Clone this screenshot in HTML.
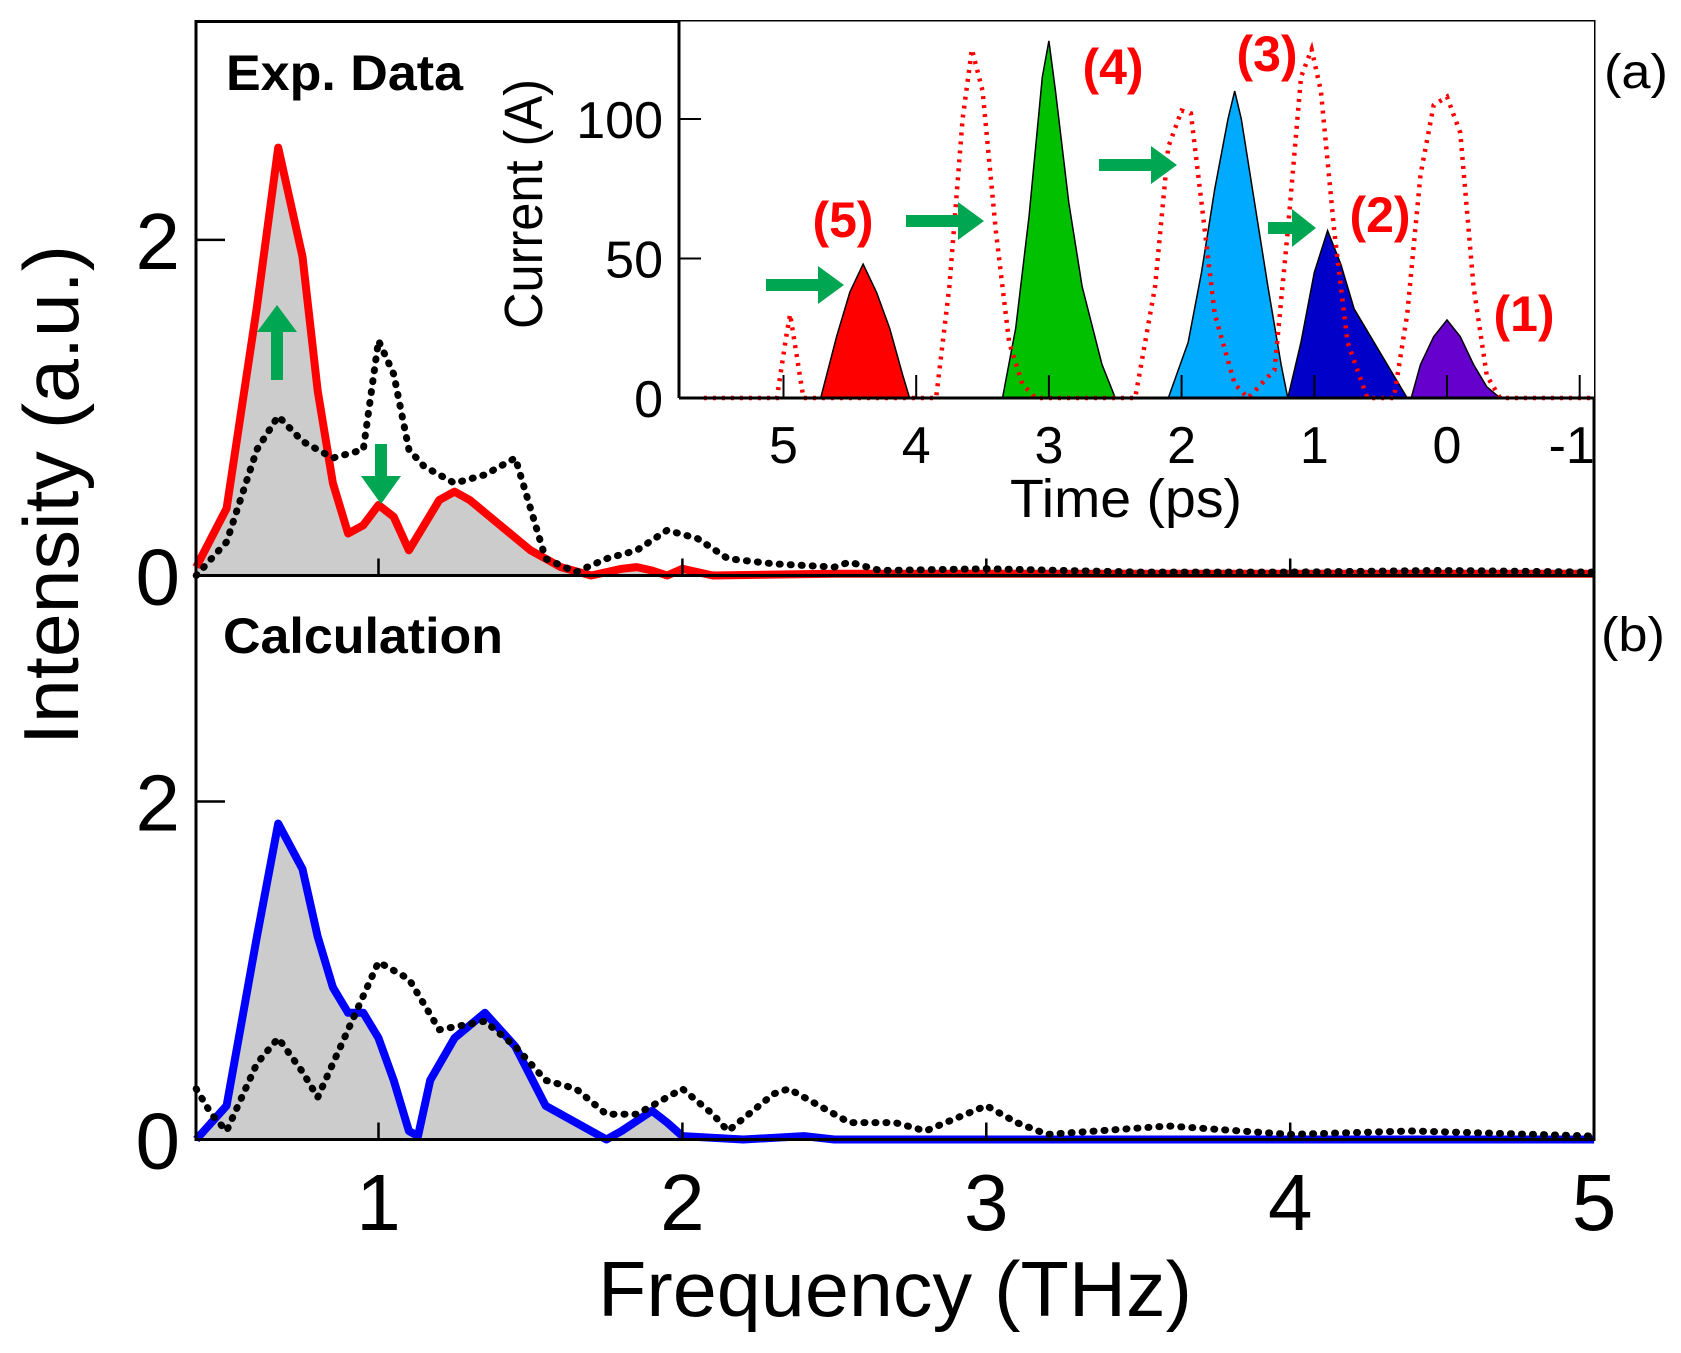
<!DOCTYPE html>
<html><head><meta charset="utf-8"><style>
html,body{margin:0;padding:0;background:#fff;}
svg{display:block;font-family:"Liberation Sans",Arial,sans-serif;}
</style></head><body>
<svg id="chart" width="1681" height="1353" viewBox="0 0 1681 1353" xmlns="http://www.w3.org/2000/svg">
<rect x="0" y="0" width="1681" height="1353" fill="#fff"/>
<g id="plots"></g>
<g id="deco"></g>
</svg>
<script>
// ---- main chart data (frequency THz, intensity a.u.) ----
const expFreq   = [0.4,0.5,0.6,0.67,0.75,0.8,0.85,0.9,0.95,1.0,1.05,1.1,1.15,1.2,1.25,1.3,1.4,1.5,1.6,1.7,1.8,1.85,1.9,1.95,2.0,2.1,2.5,3.0,3.5,4.0,4.5,5.0];
const expMeas   = [0.05,0.4,1.6,2.55,1.9,1.1,0.55,0.25,0.3,0.42,0.35,0.15,0.3,0.45,0.5,0.45,0.3,0.15,0.05,0.0,0.04,0.05,0.03,0.0,0.04,0.0,0.01,0.01,0.01,0.01,0.01,0.01];
const expRefFreq= [0.4,0.5,0.6,0.67,0.75,0.85,0.95,1.0,1.05,1.1,1.15,1.25,1.35,1.45,1.5,1.55,1.65,1.75,1.85,1.95,2.05,2.15,2.3,2.5,2.55,2.65,3.0,3.5,4.0,4.5,5.0];
const expRef    = [0.0,0.2,0.75,0.95,0.8,0.7,0.75,1.4,1.2,0.75,0.65,0.55,0.6,0.7,0.4,0.1,0.02,0.1,0.15,0.27,0.22,0.1,0.07,0.05,0.08,0.03,0.04,0.02,0.02,0.03,0.02];
const calcFreq  = [0.4,0.5,0.6,0.67,0.75,0.8,0.85,0.9,0.95,1.0,1.05,1.1,1.13,1.17,1.25,1.35,1.45,1.55,1.65,1.75,1.8,1.9,1.95,2.0,2.2,2.4,2.5,3.0,4.0,5.0];
const calcVal   = [0.0,0.2,1.2,1.87,1.6,1.2,0.9,0.75,0.75,0.6,0.35,0.05,0.02,0.35,0.6,0.75,0.55,0.2,0.1,0.0,0.05,0.17,0.1,0.02,0.0,0.02,0.0,0.0,0.0,0.0];
const calcRefFreq=[0.4,0.45,0.5,0.6,0.67,0.75,0.8,0.9,1.0,1.1,1.2,1.35,1.45,1.55,1.65,1.75,1.85,2.0,2.1,2.15,2.3,2.35,2.45,2.55,2.7,2.8,3.0,3.1,3.2,3.6,4.0,4.4,5.0];
const calcRef   = [0.3,0.15,0.05,0.45,0.6,0.4,0.25,0.65,1.05,0.95,0.65,0.7,0.55,0.35,0.3,0.15,0.15,0.3,0.15,0.05,0.27,0.3,0.2,0.1,0.1,0.05,0.2,0.1,0.03,0.08,0.03,0.05,0.02];
const freqTicks = [1,2,3,4,5];
const intTicks  = [0,2];
// ---- inset data (time ps, current A) ----
const p5T=[4.72,4.6,4.5,4.4,4.3,4.2,4.1,4.05]; const p5I=[0,22,38,48,38,25,8,0];
const p4T=[3.35,3.25,3.15,3.05,3.0,2.95,2.85,2.75,2.6,2.5]; const p4I=[0,25,65,115,128,110,70,40,12,0];
const p3T=[2.1,1.95,1.85,1.75,1.65,1.6,1.55,1.45,1.35,1.25,1.2]; const p3I=[0,20,45,75,100,110,100,70,40,12,0];
const p2T=[1.2,1.1,1.0,0.9,0.8,0.7,0.55,0.4,0.3]; const p2I=[0,20,45,60,48,32,20,8,0];
const p1T=[0.27,0.2,0.1,0.0,-0.1,-0.2,-0.3,-0.4]; const p1I=[0,12,22,28,22,12,4,0];
const dotT=[5.6,5.05,4.98,4.95,4.9,4.85,3.85,3.75,3.65,3.58,3.5,3.4,3.3,3.2,3.1,2.35,2.2,2.1,2.0,1.93,1.85,1.75,1.6,1.5,1.3,1.2,1.1,1.02,0.95,0.85,0.75,0.6,0.5,0.4,0.3,0.2,0.1,0.0,-0.1,-0.2,-0.3,-0.4,-1.1];
const dotI=[0,0,22,30,15,0,0,40,100,125,110,60,20,5,0,0,40,90,103,102,70,30,5,0,10,60,115,125,110,60,20,0,0,0,30,80,105,108,95,40,8,0,0];
const timeTicks=[5,4,3,2,1,0,-1];
const curTicks=[0,50,100];

const NS="http://www.w3.org/2000/svg";
const plots=document.getElementById('plots');
function mk(tag,attrs,parent){const e=document.createElementNS(NS,tag);for(const k in attrs)e.setAttribute(k,attrs[k]);(parent||plots).appendChild(e);return e;}
const X0=196,X1=1594;
const fx=f=>378.5+(f-1)*303.9;
const yA=v=>575.5-v*167.8;
const yB=v=>1139.5-v*169;
const tx=t=>1447-t*132.7;
const cy=c=>398-c*2.79;
function pts(xs,ys,fxf,fyf){return xs.map((x,i)=>fxf(x).toFixed(1)+','+fyf(ys[i]).toFixed(1)).join(' ');}

let e;
e=mk('polygon',{points:fx(expFreq[0])+','+yA(0)+' '+pts(expFreq,expMeas,fx,yA)+' '+fx(5)+','+yA(0),fill:'#cccccc'});

e=mk('polyline',{points:pts(expFreq,expMeas,fx,yA),fill:'none',stroke:'#ff0000','stroke-width':8,'stroke-linejoin':'round'});

e=mk('polyline',{points:pts(expRefFreq,expRef,fx,yA),fill:'none',stroke:'#000','stroke-width':7,'stroke-dasharray':'1,10','stroke-linecap':'round'});

e=mk('polygon',{points:fx(calcFreq[0])+','+yB(0)+' '+pts(calcFreq,calcVal,fx,yB)+' '+fx(5)+','+yB(0),fill:'#cccccc'});

e=mk('polyline',{points:pts(calcFreq,calcVal,fx,yB),fill:'none',stroke:'#0000ff','stroke-width':8,'stroke-linejoin':'round'});

e=mk('polyline',{points:pts(calcRefFreq,calcRef,fx,yB),fill:'none',stroke:'#000','stroke-width':7,'stroke-dasharray':'1,10','stroke-linecap':'round'});


e=mk('rect',{x:X0,y:21.5,width:X1-X0,height:yB(0)-21.5,fill:'none',stroke:'#000','stroke-width':3});

e=mk('line',{x1:X0,y1:yA(0),x2:X1,y2:yA(0),stroke:'#000','stroke-width':3});

freqTicks.forEach(f=>{
  e=mk('line',{x1:fx(f),y1:yB(0),x2:fx(f),y2:yB(0)-17,stroke:'#000','stroke-width':2.5});
  
  e=mk('line',{x1:fx(f),y1:yA(0),x2:fx(f),y2:yA(0)-17,stroke:'#000','stroke-width':2.5});
  
  e=mk('text',{x:fx(f),y:1230,'font-size':80,'text-anchor':'middle',fill:'#000'});
  e.textContent=String(f);
  
});
intTicks.forEach(v=>{
  [[yA,'a'],[yB,'b']].forEach(([fy,p])=>{
    e=mk('line',{x1:X0,y1:fy(v),x2:X0+29,y2:fy(v),stroke:'#000','stroke-width':2.5});
    
    e=mk('text',{x:180,y:fy(v)+29,'font-size':80,'text-anchor':'end',fill:'#000'});
    e.textContent=String(v);
    
  });
});

const ig=mk('g',{});

e=mk('rect',{x:679,y:21.5,width:X1-679,height:398-21.5,fill:'#fff'},ig);

const pulses=[[p5T,p5I,'#ff0000','pulse-5'],[p4T,p4I,'#00c000','pulse-4'],[p3T,p3I,'#00aaff','pulse-3'],[p2T,p2I,'#0000c8','pulse-2'],[p1T,p1I,'#6600cc','pulse-1']];
pulses.forEach(([T,I,c,n])=>{
  e=mk('polygon',{points:pts(T,I,tx,cy),fill:c,stroke:'#000','stroke-width':1.5},ig);
  
});
e=mk('polyline',{points:pts(dotT,dotI,tx,cy),fill:'none',stroke:'#ff0000','stroke-width':4.5,'stroke-dasharray':'3,6'},ig);

e=mk('line',{x1:679,y1:21.5,x2:679,y2:398,stroke:'#000','stroke-width':3},ig);

e=mk('line',{x1:679,y1:398,x2:X1,y2:398,stroke:'#000','stroke-width':3},ig);

timeTicks.forEach(t=>{
  e=mk('line',{x1:tx(t),y1:398,x2:tx(t),y2:375,stroke:'#000','stroke-width':2},ig);
  
  e=mk('text',{x:tx(t)-(t<0?8:0),y:463,'font-size':52,'text-anchor':'middle',fill:'#000'},ig);
  e.textContent=String(t);
  
});
curTicks.forEach(c=>{
  e=mk('line',{x1:679,y1:cy(c),x2:701,y2:cy(c),stroke:'#000','stroke-width':2},ig);
  
  e=mk('text',{x:663,y:cy(c)+19,'font-size':52,'text-anchor':'end',fill:'#000'},ig);
  e.textContent=String(c);
  
});
</script>
<script>
const d=document.getElementById('deco');
d.innerHTML=`
<text x="598" y="1316" font-size="78" textLength="594" lengthAdjust="spacingAndGlyphs">Frequency (THz)</text>
<text transform="translate(78,495) rotate(-90)" font-size="78" text-anchor="middle" textLength="500" lengthAdjust="spacingAndGlyphs">Intensity (a.u.)</text>
<text x="1010" y="517" font-size="54" textLength="232" lengthAdjust="spacingAndGlyphs">Time (ps)</text>
<text transform="translate(542,204) rotate(-90)" font-size="54" text-anchor="middle" textLength="250" lengthAdjust="spacingAndGlyphs">Current (A)</text>
<text x="226" y="90" font-size="50" font-weight="bold" textLength="237" lengthAdjust="spacingAndGlyphs">Exp. Data</text>
<text x="223" y="653" font-size="50" font-weight="bold" textLength="280" lengthAdjust="spacingAndGlyphs">Calculation</text>
<text x="1604" y="88" font-size="48" textLength="64" lengthAdjust="spacingAndGlyphs">(a)</text>
<text x="1601" y="651" font-size="48" textLength="64" lengthAdjust="spacingAndGlyphs">(b)</text>
<g fill="#ff0000" font-weight="bold" font-size="50" text-anchor="middle">
<text x="843" y="237">(5)</text>
<text x="1113" y="84">(4)</text>
<text x="1267" y="71">(3)</text>
<text x="1380" y="232">(2)</text>
<text x="1524" y="331">(1)</text>
</g>
<g fill="#00a651">
<path d="M271,380 h12 v-48 h14 l-20,-27 l-20,27 h14 z"/>
<path d="M375,444 h12 v32 h14 l-20,28 l-20,-28 h14 z"/>
<path d="M766,279 v12 h52 v13 l26,-19 l-26,-19 v13 z"/>
<path d="M906,215 v12 h52 v13 l26,-19 l-26,-19 v13 z"/>
<path d="M1099,159 v12 h52 v13 l26,-19 l-26,-19 v13 z"/>
<path d="M1268,222 v12 h24 v13 l24,-19 l-24,-19 v13 z"/>
</g>`;
</script>
</body></html>
